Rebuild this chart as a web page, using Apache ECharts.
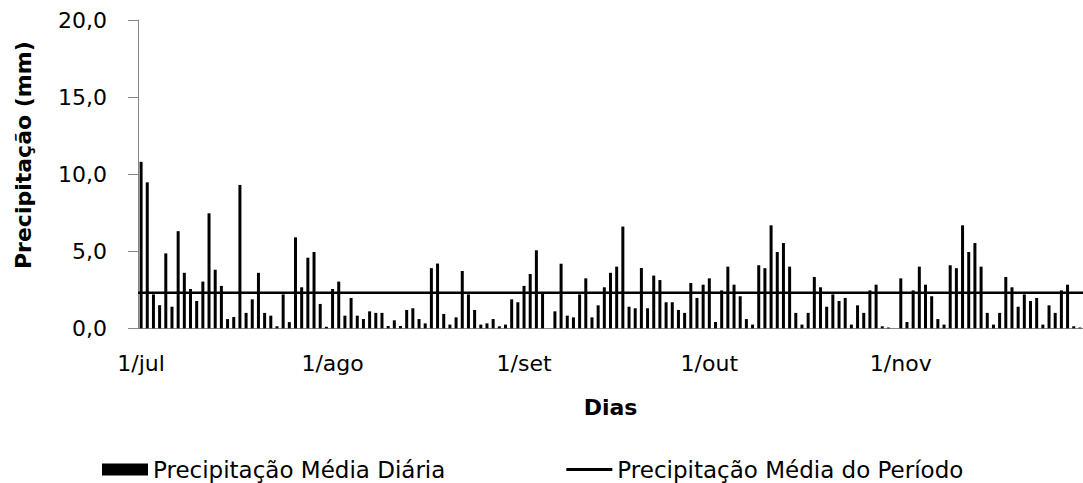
<!DOCTYPE html>
<html>
<head>
<meta charset="utf-8">
<script src="https://cdn.jsdelivr.net/npm/echarts@6/dist/echarts.min.js"></script>
<style>
html,body{margin:0;padding:0;background:#fff;}
#c{width:1083px;height:483px;}
</style>
</head>
<body>
<div id="c"></div>
<script>
// Month labels (Portuguese abbreviations)
const monthNames = ['jul', 'ago', 'set', 'out', 'nov'];

// Daily mean precipitation (mm), one value per day
const julValues = [10.8, 9.47, 2.2, 1.5, 4.86, 1.4, 6.3, 3.6, 2.55, 1.77,
  3.03, 7.46, 3.8, 2.75, 0.6, 0.73, 9.3, 1.0, 1.88, 3.6,
  1.0, 0.82, 0.13, 2.2, 0.4, 5.9, 2.66, 4.58, 4.95, 1.58, 0.1];
const agoValues = [2.55, 3.03, 0.82, 1.97, 0.82, 0.6, 1.1, 1.0, 1.0, 0.15,
  0.52, 0.15, 1.19, 1.3, 0.6, 0.32, 3.9, 4.2, 0.93, 0.24,
  0.71, 3.72, 2.2, 1.19, 0.24, 0.32, 0.6, 0.13, 0.24, 1.88, 1.69];
const setValues = [2.75, 3.52, 5.06, 2.31, 0, 1.1, 4.19, 0.82, 0.71, 2.2,
  3.24, 0.71, 1.49, 2.66, 3.6, 4.0, 6.6, 1.4, 1.3, 3.91,
  1.3, 3.42, 3.13, 1.69, 1.69, 1.19, 1.0, 2.94, 1.97, 2.83];
const outValues = [3.24, 0.41, 2.46, 4.0, 2.83, 2.08, 0.6, 0.24, 4.09, 3.9,
  6.68, 4.95, 5.53, 4.0, 1.0, 0.24, 1.0, 3.33, 2.66, 1.4,
  2.2, 1.77, 1.97, 0.24, 1.49, 1.0, 2.46, 2.83, 0.13, 0.05, 0];
const novValues = [3.24, 0.41, 2.46, 4.0, 2.83, 2.08, 0.6, 0.24, 4.09, 3.9,
  6.68, 4.95, 5.53, 4.0, 1.0, 0.24, 1.0, 3.33, 2.66, 1.4,
  2.2, 1.77, 1.97, 0.24, 1.49, 1.0, 2.46, 2.83, 0.13, 0.05];

// Mean precipitation of the whole period (mm)
const periodMean = 2.3;

// Y axis ticks
const yTickValues = [0, 5, 10, 15, 20];

const seriesNames = ['Precipitação Média Diária', 'Precipitação Média do Período'];

// Build categories "d/mon" and the flat daily series
const monthValues = [julValues, agoValues, setValues, outValues, novValues];
const categories = [];
const dailyValues = [];
monthValues.forEach(function (arr, m) {
  arr.forEach(function (v, d) {
    categories.push((d + 1) + '/' + monthNames[m]);
    dailyValues.push(v);
  });
});
const meanValues = categories.map(function () { return periodMean; });

const FONT = 'DejaVu Sans';
const AXIS_GRAY = '#868686';
function isMonthStart(i) { return categories[i].indexOf('1/') === 0; }

const chart = echarts.init(document.getElementById('c'), null, { renderer: 'svg' });
chart.setOption({
  animation: false,
  backgroundColor: '#fff',
  grid: { left: 138, top: 20, width: 946, height: 308.3 },
  legend: {
    left: 97, top: 453,
    itemWidth: 46, itemHeight: 12, itemGap: 121,
    textStyle: { fontFamily: FONT, fontSize: 23, color: '#000' },
    data: [
      { name: seriesNames[0], icon: 'rect' },
      { name: seriesNames[1], icon: 'path://M0,0 H46 V3 H0 Z' }
    ]
  },
  xAxis: [{
    type: 'category',
    data: categories,
    boundaryGap: true,
    name: 'Dias',
    nameLocation: 'middle',
    nameGap: 68,
    nameTextStyle: { fontFamily: FONT, fontWeight: 'bold', fontSize: 22, color: '#000' },
    axisLine: { lineStyle: { color: AXIS_GRAY, width: 1 } },
    axisTick: { interval: function (i) { return isMonthStart(i); }, length: 8, lineStyle: { color: AXIS_GRAY } },
    axisLabel: {
      interval: function (i) { return isMonthStart(i); },
      margin: 24, fontFamily: FONT, fontSize: 22, color: '#000'
    },
    splitLine: { show: false }
  }, {
    type: 'category',
    data: categories,
    boundaryGap: false,
    show: false
  }],
  yAxis: {
    type: 'value',
    min: yTickValues[0], max: yTickValues[yTickValues.length - 1], interval: 5,
    name: 'Precipitação (mm)',
    nameLocation: 'middle',
    nameGap: 104,
    nameTextStyle: { fontFamily: FONT, fontWeight: 'bold', fontSize: 22, color: '#000', padding: [0, 0, 0, 38] },
    axisLine: { show: true, lineStyle: { color: AXIS_GRAY, width: 1 } },
    axisTick: { show: true, length: 10, lineStyle: { color: AXIS_GRAY } },
    axisLabel: {
      margin: 31, fontFamily: FONT, fontSize: 22, color: '#000',
      formatter: function (v) { return v.toFixed(1).replace('.', ','); }
    },
    splitLine: { show: false }
  },
  series: [{
    name: seriesNames[0],
    type: 'bar',
    data: dailyValues,
    barWidth: 3,
    itemStyle: { color: '#000' }
  }, {
    name: seriesNames[1],
    type: 'line',
    xAxisIndex: 1,
    data: meanValues,
    symbol: 'none',
    lineStyle: { color: '#000', width: 2.5 },
    itemStyle: { color: '#000' },
    z: 3
  }]
});
</script>
</body>
</html>
